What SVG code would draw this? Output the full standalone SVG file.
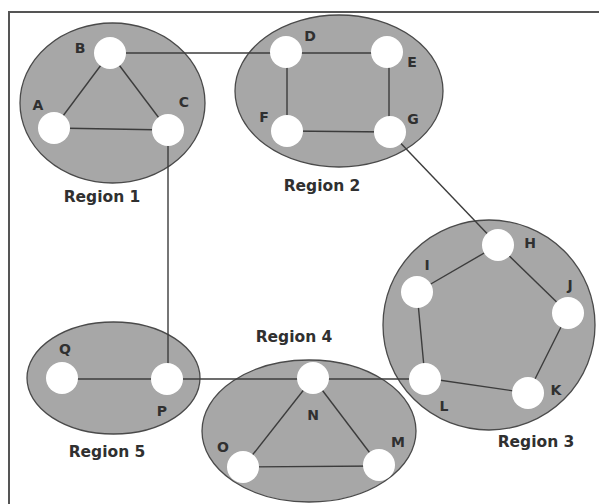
<svg xmlns="http://www.w3.org/2000/svg" width="599" height="504" viewBox="0 0 599 504">
  <style>
    .region { fill: #a7a7a7; stroke: #4a4a4a; stroke-width: 1.3; }
    .node { fill: #ffffff; }
    .edge { stroke: #3c3c3c; stroke-width: 1.4; fill: none; }
    .lbl { font-family: "DejaVu Sans", "Liberation Sans", sans-serif; font-weight: bold; font-size: 14px; fill: #303030; text-anchor: middle; }
    .rlbl { font-family: "DejaVu Sans", "Liberation Sans", sans-serif; font-weight: bold; font-size: 15.5px; fill: #303030; text-anchor: middle; }
  </style>
  <rect x="0" y="0" width="599" height="504" fill="#ffffff"/>
  <!-- outer frame -->
  <path d="M9,504 V12 H599" fill="none" stroke="#555" stroke-width="2"/>

  <!-- region shapes -->
  <g id="regions">
    <ellipse id="region1" class="region" cx="112.5" cy="103" rx="92.5" ry="80"/>
    <ellipse id="region2" class="region" cx="339" cy="91" rx="104" ry="76"/>
    <ellipse id="region3" class="region" cx="489" cy="325" rx="106" ry="105"/>
    <ellipse id="region5" class="region" cx="113.5" cy="378" rx="86.5" ry="56"/>
    <ellipse id="region4" class="region" cx="309" cy="431" rx="107" ry="71"/>
  </g>

  <!-- connectors -->
  <g id="connectors">
    <line class="edge" x1="54" y1="128" x2="110" y2="53"/>
    <line class="edge" x1="110" y1="53" x2="168" y2="130"/>
    <line class="edge" x1="54" y1="128" x2="168" y2="130"/>
    <line class="edge" x1="110" y1="53" x2="287" y2="53"/>
    <line class="edge" x1="287" y1="53" x2="387" y2="53"/>
    <line class="edge" x1="287" y1="53" x2="287" y2="130"/>
    <line class="edge" x1="389" y1="53" x2="389" y2="132"/>
    <line class="edge" x1="287" y1="131" x2="390" y2="132"/>
    <line class="edge" x1="390" y1="132" x2="498" y2="245"/>
    <line class="edge" x1="168" y1="130" x2="168" y2="378"/>
    <line class="edge" x1="62" y1="379" x2="167" y2="379"/>
    <line class="edge" x1="167" y1="379" x2="425" y2="379"/>
    <line class="edge" x1="313" y1="378" x2="243" y2="467"/>
    <line class="edge" x1="313" y1="378" x2="379" y2="465"/>
    <line class="edge" x1="243" y1="467" x2="379" y2="466"/>
    <line class="edge" x1="498" y1="245" x2="417" y2="292"/>
    <line class="edge" x1="498" y1="245" x2="568" y2="313"/>
    <line class="edge" x1="568" y1="313" x2="528" y2="393"/>
    <line class="edge" x1="528" y1="393" x2="425" y2="378"/>
    <line class="edge" x1="425" y1="378" x2="417" y2="292"/>
  </g>

  <!-- nodes -->
  <g id="node-A"><circle class="node" cx="54" cy="128" r="16"/><text class="lbl" x="38" y="110">A</text></g>
  <g id="node-B"><circle class="node" cx="110" cy="53" r="16"/><text class="lbl" x="80" y="53">B</text></g>
  <g id="node-C"><circle class="node" cx="168" cy="130" r="16"/><text class="lbl" x="184" y="107">C</text></g>
  <g id="node-D"><circle class="node" cx="286" cy="52" r="16"/><text class="lbl" x="310" y="41">D</text></g>
  <g id="node-E"><circle class="node" cx="387" cy="52" r="16"/><text class="lbl" x="412" y="67">E</text></g>
  <g id="node-F"><circle class="node" cx="287" cy="131" r="16"/><text class="lbl" x="264" y="122">F</text></g>
  <g id="node-G"><circle class="node" cx="390" cy="132" r="16"/><text class="lbl" x="413" y="124">G</text></g>
  <g id="node-H"><circle class="node" cx="498" cy="245" r="16"/><text class="lbl" x="530" y="248">H</text></g>
  <g id="node-I"><circle class="node" cx="417" cy="292" r="16"/><text class="lbl" x="427" y="270">I</text></g>
  <g id="node-J"><circle class="node" cx="568" cy="313" r="16"/><text class="lbl" x="570" y="290">J</text></g>
  <g id="node-K"><circle class="node" cx="528" cy="393" r="16"/><text class="lbl" x="556" y="395">K</text></g>
  <g id="node-L"><circle class="node" cx="425" cy="379" r="16"/><text class="lbl" x="444" y="411">L</text></g>
  <g id="node-M"><circle class="node" cx="379" cy="465" r="16"/><text class="lbl" x="398" y="447">M</text></g>
  <g id="node-N"><circle class="node" cx="313" cy="378" r="16"/><text class="lbl" x="313" y="420">N</text></g>
  <g id="node-O"><circle class="node" cx="243" cy="467" r="16"/><text class="lbl" x="223" y="452">O</text></g>
  <g id="node-P"><circle class="node" cx="167" cy="379" r="16"/><text class="lbl" x="162" y="416">P</text></g>
  <g id="node-Q"><circle class="node" cx="62" cy="378" r="16"/><text class="lbl" x="65" y="354">Q</text></g>

  <!-- region captions -->
  <g id="captions">
    <text class="rlbl" x="102" y="202">Region 1</text>
    <text class="rlbl" x="322" y="191">Region 2</text>
    <text class="rlbl" x="536" y="447">Region 3</text>
    <text class="rlbl" x="294" y="342">Region 4</text>
    <text class="rlbl" x="107" y="457">Region 5</text>
  </g>
</svg>
